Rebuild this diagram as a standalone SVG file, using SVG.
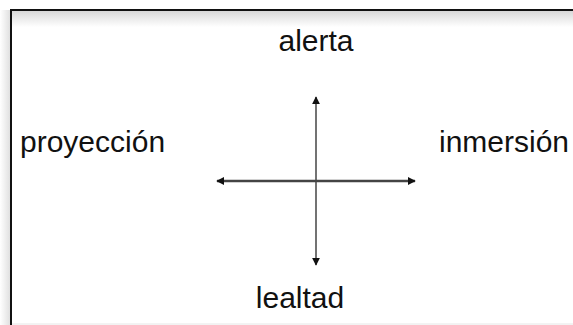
<svg xmlns="http://www.w3.org/2000/svg" width="573" height="325" viewBox="0 0 573 325">
  <defs>
    <linearGradient id="shTop" x1="0" y1="0" x2="0" y2="1">
      <stop offset="0" stop-color="#d8d8d8"/>
      <stop offset="1" stop-color="#ffffff"/>
    </linearGradient>
    <linearGradient id="shLeft" x1="1" y1="0" x2="0" y2="0">
      <stop offset="0" stop-color="#e0e0e0"/>
      <stop offset="1" stop-color="#ffffff"/>
    </linearGradient>
    <marker id="arr" viewBox="0 0 10 10" refX="9" refY="5" markerWidth="8" markerHeight="8" markerUnits="userSpaceOnUse" orient="auto-start-reverse">
      <path d="M0,0 L10,5 L0,10 z" fill="#111"/>
    </marker>
    <style>
      .lbl { font-family: "Liberation Sans", Arial, sans-serif; font-size: 30px; fill: #111; }
      .ax { stroke: #444; fill: none; }
    </style>
  </defs>
  <rect x="0" y="0" width="573" height="325" fill="#fff"/>
  <g id="frame">
    <rect x="12" y="11" width="561" height="16" fill="url(#shTop)"/>
    <rect x="0" y="10" width="10" height="315" fill="url(#shLeft)"/>
    <line x1="573" y1="324" x2="12" y2="324" stroke="#e6e6e6" stroke-width="1"/>
    <path d="M11,325 V10 H573" stroke="#111" stroke-width="2" fill="none"/>
  </g>
  <g id="connectors">
    <line class="ax" x1="316" y1="265" x2="316" y2="97" stroke-width="1.5" marker-start="url(#arr)" marker-end="url(#arr)"/>
    <line class="ax" x1="217" y1="181" x2="415" y2="181" stroke-width="2.5" marker-start="url(#arr)" marker-end="url(#arr)"/>
  </g>
  <g id="alerta"><text class="lbl" x="316" y="51" text-anchor="middle">alerta</text></g>
  <g id="proyeccion"><text class="lbl" x="20" y="152">proyección</text></g>
  <g id="inmersion"><text class="lbl" x="439" y="152">inmersión</text></g>
  <g id="lealtad"><text class="lbl" x="300" y="308" text-anchor="middle">lealtad</text></g>
</svg>
